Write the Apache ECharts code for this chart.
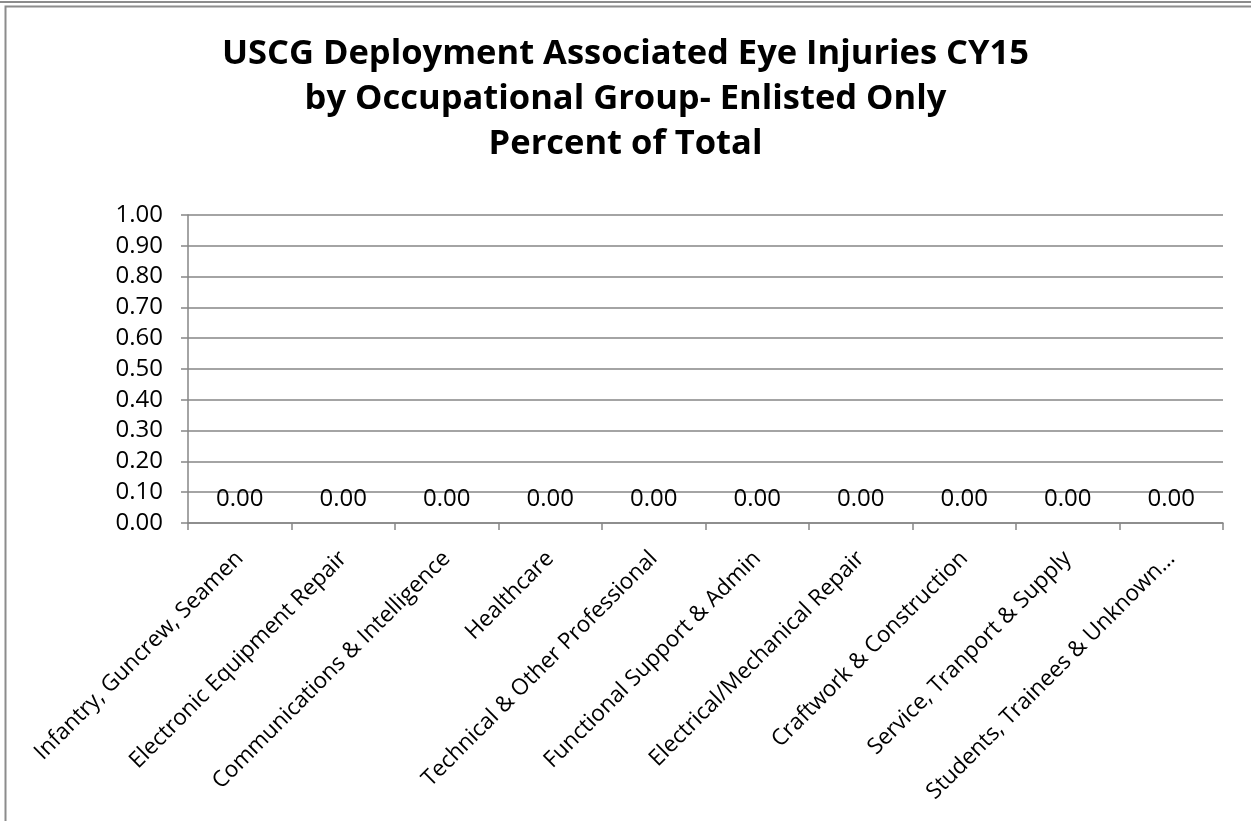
<!DOCTYPE html>
<html><head><meta charset="utf-8">
<script src="https://cdn.jsdelivr.net/npm/echarts@6/dist/echarts.min.js"></script>
<style>html,body{margin:0;padding:0;background:#fff}#c{width:1251px;height:821px}</style>
</head><body><div id="c"></div>
<script>
const titleLines = ["USCG Deployment Associated Eye Injuries CY15", "by Occupational Group- Enlisted Only", "Percent of Total"];
const categories = ["Infantry, Guncrew, Seamen", "Electronic Equipment Repair", "Communications & Intelligence", "Healthcare", "Technical & Other Professional", "Functional Support & Admin", "Electrical/Mechanical Repair", "Craftwork & Construction", "Service, Tranport & Supply", "Students, Trainees & Unknown…"];
const values = [0, 0, 0, 0, 0, 0, 0, 0, 0, 0];
const yMin = 0, yMax = 1, yInterval = 0.1;

const font = "'Open Sans', 'Liberation Sans', sans-serif";
const gray = '#868686';
const chart = echarts.init(document.getElementById('c'), null, {renderer: 'canvas'});
chart.setOption({
  animation: false,
  backgroundColor: '#fff',
  title: {
    text: titleLines.join('\n'), left: 'center', top: 27,
    textStyle: {fontFamily: font, fontWeight: 'bold', fontSize: 34.5, lineHeight: 45, color: '#000'}
  },
  graphic: [
    {type: 'line', shape: {x1: 0, y1: 2, x2: 1251, y2: 2}, style: {stroke: '#8c8c8c', lineWidth: 2}},
    {type: 'polyline', shape: {points: [[5.5, 821], [5.5, 6.5], [1251, 6.5]]}, style: {stroke: '#8c8c8c', lineWidth: 2, fill: null}}
  ],
  grid: {left: 188, right: 28, top: 215, bottom: 298, containLabel: false},
  xAxis: {
    type: 'category', data: categories,
    axisLine: {lineStyle: {color: gray, width: 1.5}},
    axisTick: {show: true, length: 7, lineStyle: {color: gray, width: 1.5}},
    axisLabel: {rotate: 45, fontFamily: font, fontSize: 22.5, color: '#000', margin: 32, interval: 0}
  },
  yAxis: {
    type: 'value', min: yMin, max: yMax, interval: yInterval,
    axisLine: {show: true, lineStyle: {color: gray, width: 1.5}},
    axisTick: {show: true, length: 7, lineStyle: {color: gray, width: 1.5}},
    splitLine: {lineStyle: {color: gray, width: 1.5}},
    axisLabel: {formatter: v => v.toFixed(2), fontFamily: font, fontSize: 24, color: '#000', margin: 25}
  },
  series: [{
    type: 'bar', data: values, barWidth: '60%',
    itemStyle: {color: '#4f81bd'},
    label: {show: true, position: 'top', distance: 12, formatter: p => p.value.toFixed(2), fontFamily: font, fontSize: 24, color: '#000'}
  }]
});
</script></body></html>
